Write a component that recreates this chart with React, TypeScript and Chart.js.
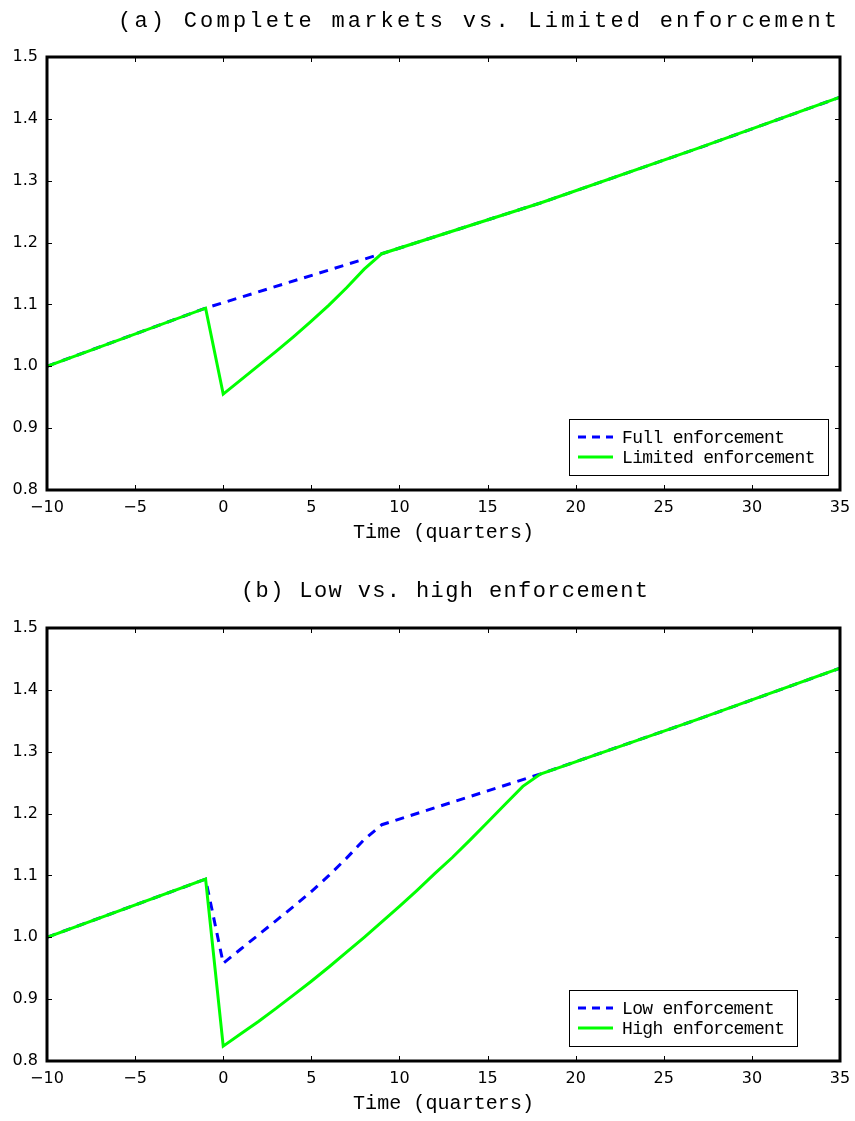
import React, { useEffect, useRef } from "react";
import { Chart, registerables } from "chart.js";

Chart.register(...registerables);

// ---------- data ----------
const X_MIN = -10;
const X_MAX = 35;
const X_STEP = 5;
const Y_MIN = 0.8;
const Y_MAX = 1.5;
const Y_STEP = 0.1;

// Panel (a)
const quartersFull = [-10, -1, 9, 18, 27, 35];
const fullEnforcement = [1.0, 1.094, 1.182, 1.264, 1.353, 1.435];

const quartersLimited = [-10, -1, 0, 1, 2, 3, 4, 5, 6, 7, 8, 9, 18, 27, 35];
const limitedEnforcement = [
  1.0, 1.094, 0.955, 0.978, 1.001, 1.024, 1.048, 1.073, 1.099, 1.127, 1.157,
  1.182, 1.264, 1.353, 1.435,
];

// Panel (b)
const quartersLow = [-10, -1, 0, 1, 2, 3, 4, 5, 6, 7, 8, 9, 18, 27, 35];
const lowEnforcement = [
  1.0, 1.094, 0.958, 0.981, 1.004, 1.027, 1.05, 1.074, 1.1, 1.128, 1.158,
  1.182, 1.264, 1.353, 1.435,
];

const quartersHigh = [
  -10, -1, 0, 1, 2, 3, 4, 5, 6, 7, 8, 9, 10, 11, 12, 13, 14, 15, 16, 17, 18,
  27, 35,
];
const highEnforcement = [
  1.0, 1.094, 0.824, 0.844, 0.864, 0.885, 0.907, 0.929, 0.952, 0.976, 1.0,
  1.025, 1.05, 1.076, 1.103, 1.129, 1.157, 1.186, 1.215, 1.244, 1.264, 1.353,
  1.435,
];

const titleA = "(a) Complete markets vs. Limited enforcement";
const titleB = "(b) Low vs. high enforcement";
const xAxisTitle = "Time (quarters)";
const legendA = ["Full enforcement", "Limited enforcement"];
const legendB = ["Low enforcement", "High enforcement"];

const BLUE = "#0000ff";
const GREEN = "#00ff00";
const MONO = "'Liberation Mono', 'Courier New', monospace";
const TICK_FONT = "'DejaVu Sans', Arial, sans-serif";

const toPoints = (xs: number[], ys: number[]) =>
  xs.map((x, i) => ({ x, y: ys[i] }));

// ---------- drawing helpers ----------
function drawSpaced(
  ctx: CanvasRenderingContext2D,
  text: string,
  left: number,
  right: number,
  cy: number,
  font: string
) {
  ctx.save();
  ctx.font = font;
  (ctx as any).letterSpacing = "0px";
  const w = ctx.measureText(text).width;
  const s = (right - left - w) / (text.length - 1);
  (ctx as any).letterSpacing = s + "px";
  ctx.fillStyle = "#000";
  ctx.textAlign = "left";
  ctx.textBaseline = "middle";
  ctx.fillText(text, left, cy);
  ctx.restore();
}

const decorPlugin = {
  id: "decor",
  afterDraw(chart: any, _args: any, opts: any) {
    const ctx: CanvasRenderingContext2D = chart.ctx;
    const area = chart.chartArea;
    const xs = chart.scales.x;
    const ys = chart.scales.y;
    ctx.save();
    // inward ticks
    ctx.strokeStyle = "#000";
    ctx.lineWidth = 1;
    const tl = 5;
    ctx.beginPath();
    xs.ticks.forEach((t: any) => {
      const px = Math.round(xs.getPixelForValue(t.value)) + 0.5;
      ctx.moveTo(px, area.bottom);
      ctx.lineTo(px, area.bottom - tl);
      ctx.moveTo(px, area.top);
      ctx.lineTo(px, area.top + tl);
    });
    ys.ticks.forEach((t: any) => {
      const py = Math.round(ys.getPixelForValue(t.value)) + 0.5;
      ctx.moveTo(area.left, py);
      ctx.lineTo(area.left + tl, py);
      ctx.moveTo(area.right, py);
      ctx.lineTo(area.right - tl, py);
    });
    ctx.stroke();
    // frame
    ctx.lineWidth = 3;
    ctx.strokeRect(
      area.left,
      area.top,
      area.right - area.left,
      area.bottom - area.top
    );

    // legend
    const lg = opts.legend;
    const font = "18px " + MONO;
    ctx.font = font;
    (ctx as any).letterSpacing = "0px";
    const refW = ctx.measureText(legendA[0]).width;
    const ls = (163 - refW) / (legendA[0].length - 1);
    (ctx as any).letterSpacing = ls + "px";
    const maxW = Math.max(
      ...lg.items.map((it: any) => ctx.measureText(it.label).width)
    );
    const bx = area.left + lg.offsetLeft;
    const bh = 56;
    const by = area.bottom - lg.offsetBottom - bh;
    const bw = 53 + maxW + 13;
    ctx.fillStyle = "#fff";
    ctx.fillRect(bx, by, bw, bh);
    ctx.lineWidth = 1;
    ctx.strokeStyle = "#000";
    ctx.strokeRect(Math.round(bx) + 0.5, Math.round(by) + 0.5, Math.round(bw), bh);
    lg.items.forEach((it: any, i: number) => {
      const cy = by + 18 + i * 20;
      ctx.save();
      (ctx as any).letterSpacing = "0px";
      ctx.strokeStyle = it.color;
      ctx.lineWidth = 3;
      if (it.dash) ctx.setLineDash([8, 6]);
      ctx.beginPath();
      ctx.moveTo(bx + 9, cy);
      ctx.lineTo(bx + 44, cy);
      ctx.stroke();
      ctx.restore();
      ctx.fillStyle = "#000";
      ctx.textAlign = "left";
      ctx.textBaseline = "middle";
      ctx.font = font;
      ctx.fillText(it.label, bx + 53, cy + 1);
    });
    (ctx as any).letterSpacing = "0px";
    ctx.restore();

    // titles
    const t = opts.title;
    drawSpaced(ctx, t.text, t.left, t.right, t.cy, "22px " + MONO);
    const xt = opts.xTitle;
    drawSpaced(ctx, xt.text, xt.left, xt.right, xt.cy, "20px " + MONO);
  },
};

const zeroPadding = (s: any) => {
  s.paddingLeft = 0;
  s.paddingRight = 0;
  s.paddingTop = 0;
  s.paddingBottom = 0;
};

function buildConfig(spec: any) {
  return {
    type: "line",
    data: {
      datasets: [
        {
          label: spec.names[0],
          data: spec.blue,
          borderColor: BLUE,
          borderWidth: 3,
          borderDash: [9, 7],
          pointRadius: 0,
          tension: 0,
          fill: false,
          order: 2,
        },
        {
          label: spec.names[1],
          data: spec.green,
          borderColor: GREEN,
          borderWidth: 3,
          pointRadius: 0,
          tension: 0,
          fill: false,
          order: 1,
        },
      ],
    },
    options: {
      responsive: false,
      animation: false,
      devicePixelRatio: 1,
      layout: { padding: { top: spec.padTop, right: 15, left: 0, bottom: 0 } },
      plugins: {
        legend: { display: false },
        tooltip: { enabled: false },
        title: { display: false },
        decor: {
          title: spec.title,
          xTitle: spec.xTitle,
          legend: spec.legend,
        },
      },
      scales: {
        x: {
          type: "linear",
          min: X_MIN,
          max: X_MAX,
          grid: { display: false, drawTicks: false },
          border: { display: false },
          afterFit: (s: any) => {
            s.height = spec.xAxisHeight;
            zeroPadding(s);
          },
          ticks: {
            stepSize: X_STEP,
            padding: 8,
            color: "#000",
            font: { family: TICK_FONT, size: 16 },
            maxRotation: 0,
            callback: (v: number) => String(v).replace("-", "\u2212"),
          },
        },
        y: {
          type: "linear",
          min: Y_MIN,
          max: Y_MAX,
          grid: { display: false, drawTicks: false },
          border: { display: false },
          afterFit: (s: any) => {
            s.width = 47;
            zeroPadding(s);
          },
          ticks: {
            stepSize: Y_STEP,
            padding: 9,
            color: "#000",
            font: { family: TICK_FONT, size: 16 },
            callback: (v: number) => Number(v).toFixed(1),
          },
        },
      },
    },
    plugins: [decorPlugin],
  };
}

function Panel({ spec, top, height }: { spec: any; top: number; height: number }) {
  const ref = useRef<HTMLCanvasElement>(null);
  useEffect(() => {
    if (!ref.current) return;
    const chart = new Chart(ref.current, buildConfig(spec) as any);
    return () => chart.destroy();
  }, []);
  return (
    <canvas
      ref={ref}
      width={855}
      height={height}
      style={{ position: "absolute", left: 0, top, width: 855, height, display: "block" }}
    />
  );
}

const specA = {
  names: legendA,
  blue: toPoints(quartersFull, fullEnforcement),
  green: toPoints(quartersLimited, limitedEnforcement),
  padTop: 57,
  xAxisHeight: 70,
  title: { text: titleA, left: 118, right: 837, cy: 21 },
  xTitle: { text: xAxisTitle, left: 353, right: 534, cy: 533 },
  legend: {
    offsetLeft: 522,
    offsetBottom: 15,
    items: [
      { label: legendA[0], color: BLUE, dash: true },
      { label: legendA[1], color: GREEN, dash: false },
    ],
  },
};

const specB = {
  names: legendB,
  blue: toPoints(quartersLow, lowEnforcement),
  green: toPoints(quartersHigh, highEnforcement),
  padTop: 68,
  xAxisHeight: 60,
  title: { text: titleB, left: 241, right: 648, cy: 591 - 560 },
  xTitle: { text: xAxisTitle, left: 353, right: 534, cy: 1104 - 560 },
  legend: {
    offsetLeft: 522,
    offsetBottom: 15,
    items: [
      { label: legendB[0], color: BLUE, dash: true },
      { label: legendB[1], color: GREEN, dash: false },
    ],
  },
};

export default function App() {
  return (
    <div
      style={{
        position: "absolute",
        left: 0,
        top: 0,
        width: 855,
        height: 1121,
        background: "#fff",
      }}
    >
      <Panel spec={specA} top={0} height={560} />
      <Panel spec={specB} top={560} height={561} />
    </div>
  );
}
